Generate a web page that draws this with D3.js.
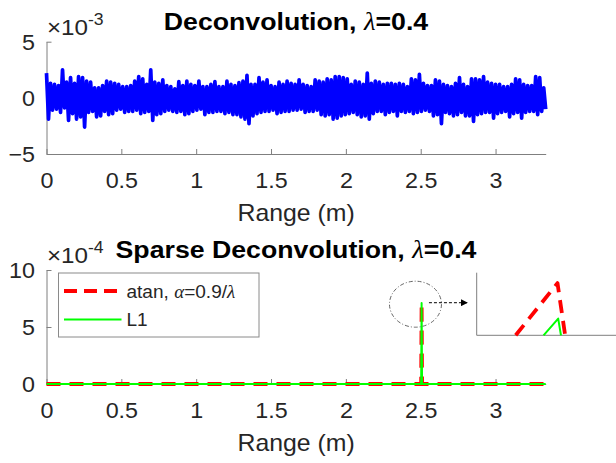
<!DOCTYPE html>
<html>
<head>
<meta charset="utf-8">
<script src="https://cdn.jsdelivr.net/npm/d3@7"></script>
<style>
  html, body { margin: 0; padding: 0; background: #fff; }
  svg { display: block; }
  text { font-family: "Liberation Sans", Arial, sans-serif; }
</style>
</head>
<body>
<svg id="chart" width="616" height="463"></svg>
<script>
// ---------------- DATA ----------------
// Top panel: deconvolution output (units of 1e-3), evenly sampled over the range
const rangeMax = 3.335;
const deconvValues = [
  2.2,-1.9,1.3,-1.1,1.2,-1.0,1.1,-1.3,2.5,-0.9,1.4,-2.0,1.8,-1.4,1.3,-1.9,1.9,-1.7,1.8,-2.6,
  1.5,-1.3,1.4,-1.2,0.9,-1.7,0.9,-1.6,1.1,-1.2,1.5,-1.5,1.4,-1.4,1.3,-1.1,1.2,-1.0,1.0,-1.3,
  1.0,-1.2,1.1,-1.2,1.5,-1.1,1.9,-1.4,1.7,-1.3,1.2,-1.2,2.5,-2.0,1.4,-1.5,1.3,-1.4,1.6,-1.2,
  1.1,-1.1,1.0,-1.2,
  0.8,-1.3,1.45,-1.2,1.1,-1.5,1.5,-1.4,1.2,-1.2,1.1,-1.1,1.5,-1.0,1.0,-1.5,1.0,-1.3,1.2,-1.3,
  1.45,-1.2,1.0,-1.2,1.0,-1.4,1.5,-1.3,1.2,-1.5,1.1,-1.5,1.35,-1.7,1.5,-1.9,2.0,-2.3,1.2,-1.6,
  1.2,-1.4,1.8,-1.3,1.4,-1.2,1.6,-1.2,1.1,-1.1,1.0,-1.4,1.4,-1.3,1.2,-1.2,1.5,-1.2,1.3,-1.1,
  1.2,-1.1,1.6,
  -1.0,1.2,-1.3,1.1,-1.2,1.0,-1.2,1.6,-1.1,1.5,-1.5,1.4,-1.6,1.7,-1.5,1.6,-1.9,1.9,-1.8,1.9,
  -1.6,1.8,-1.5,1.7,-1.4,1.2,-1.3,1.5,-1.5,1.4,-1.7,1.2,-1.6,2.2,-1.9,1.3,-1.4,1.5,-1.2,1.4,
  -1.2,1.2,-1.5,1.3,-1.3,1.3,-1.2,1.2,-1.6,1.3,-1.2,1.2,-1.3,1.0,-1.2,1.7,-1.4,1.6,-1.3,2.1,
  -1.2,1.3,-1.1,
  1.1,-1.2,1.1,-1.6,1.6,-1.5,1.5,-2.3,1.2,-1.3,1.1,-1.4,1.0,-1.6,1.3,-1.5,1.8,-1.3,1.2,-1.6,
  1.0,-1.6,1.7,-2.1,1.7,-1.5,1.6,-1.4,1.9,-1.3,1.4,-1.3,1.3,-1.8,1.2,-1.4,1.2,-1.3,1.0,-1.2,
  1.0,-1.7,1.2,-1.4,1.7,-1.3,1.6,-1.8,1.2,-1.3,1.1,-1.2,1.1,-1.2,1.9,-1.5,1.8,-1.2,0.9,-1.0
];
// Bottom panel: sparse deconvolution (units of 1e-4)
const sparseRange = [0, 2.503, 2.506, 2.509, 3.335];
const atanValues  = [0, 0, 7.1, 0, 0];
const l1Values    = [0, 0, 7.1, 0, 0];
// Inset (zoom of the spike)
const insetAtanRange = [2.5006, 2.5066, 2.5077];
const insetAtanValues = [0, 7.5, 0];
const insetL1Range = [2.5046, 2.5067, 2.5071];
const insetL1Values = [0, 2.4, 0];
// Annotation (ellipse centre and arrow, data units of bottom panel)
const zoomCircle = [2.465, 7.0];
const zoomArrow = [[2.555, 7.13], [2.815, 7.13]];
// Ticks
const xTicks = [0, 0.5, 1, 1.5, 2, 2.5, 3];
const yTicksTop = [-5, 0, 5];
const yTicksBottom = [0, 5, 10];

// ---------------- LAYOUT ----------------
const svg = d3.select("#chart");
const axisColor = "#7f7f7f";
const textColor = "#262626";
const tickFont = 22;
const FONT = '"Liberation Sans", Arial, sans-serif';
const GREEK = '"Liberation Serif", serif';

// horizontal stretch of text about its anchor x
function stretchX(sel, s) {
  sel.each(function () {
    const t = d3.select(this);
    const x0 = +t.attr("x") || 0;
    t.attr("transform", `translate(${x0 * (1 - s)},0) scale(${s},1)`);
  });
}

const x = d3.scaleLinear().domain([0, rangeMax]).range([46.5, 545.7]);
const yTop = d3.scaleLinear().domain([-5, 5]).range([154, 41.7]);
const yBot = d3.scaleLinear().domain([0, 10]).range([384, 270]);

const fmt = d3.format("~g");

function drawAxes(y, yTicks, xAxisY, labelY) {
  const gx = svg.append("g").attr("transform", `translate(0,${xAxisY})`)
    .call(d3.axisBottom(x).tickValues(xTicks).tickFormat(fmt).tickSizeInner(-5).tickSizeOuter(0));
  gx.select(".domain").attr("stroke", axisColor);
  gx.selectAll(".tick line").attr("stroke", axisColor);
  const tx = gx.selectAll(".tick text").attr("y", 34).attr("dy", null)
    .attr("font-size", tickFont).attr("fill", textColor).attr("font-family", FONT);
  stretchX(tx, 1.06);

  const gy = svg.append("g").attr("transform", `translate(${x(0)},0)`)
    .call(d3.axisLeft(y).tickValues(yTicks).tickFormat(fmt).tickSizeInner(-5).tickSizeOuter(0));
  gy.select(".domain").attr("stroke", axisColor);
  gy.selectAll(".tick line").attr("stroke", axisColor);
  const ty = gy.selectAll(".tick text").attr("x", -11.5).attr("dy", "0.36em")
    .attr("font-size", tickFont).attr("fill", textColor).attr("font-family", FONT);
  stretchX(ty, 1.06);

  const lab = svg.append("text").attr("x", (x.range()[0] + x.range()[1]) / 2).attr("y", labelY)
    .attr("text-anchor", "middle").attr("font-size", 23).attr("fill", textColor)
    .text("Range (m)");
  stretchX(lab, 1.08);
}

function drawTitle(parts, yBase) {
  const t = svg.append("text").attr("x", 296).attr("y", yBase)
    .attr("text-anchor", "middle").attr("font-size", 24.5).attr("font-weight", "bold").attr("fill", "#000");
  parts.forEach(p => {
    const s = t.append("tspan").text(p.text);
    if (p.greek) s.attr("font-family", GREEK).attr("font-style", "italic").attr("font-weight", "normal");
  });
  stretchX(t, 1.09);
}

function drawExponent(exp, yBase) {
  const t = svg.append("text").attr("x", 47).attr("y", yBase).attr("font-size", tickFont).attr("fill", textColor);
  t.append("tspan").text("\u00D710");
  t.append("tspan").attr("dy", -10).attr("font-size", 16).text(exp);
  stretchX(t, 1.1);
}

// ---------------- TOP PANEL ----------------
drawAxes(yTop, yTicksTop, 154, 221);
const step = rangeMax / (deconvValues.length - 1);
const lineTop = d3.line().x((d, i) => x(i * step)).y(d => yTop(d));
svg.append("path").datum(deconvValues).attr("d", lineTop)
  .attr("fill", "none").attr("stroke", "#0000ff").attr("stroke-width", 3.7).attr("stroke-linejoin", "round");
drawTitle([{text: "Deconvolution, "}, {text: "\u03BB", greek: true}, {text: "=0.4"}], 30.5);
drawExponent("-3", 35);

// ---------------- BOTTOM PANEL ----------------
drawAxes(yBot, yTicksBottom, 384, 451.5);
const lineBot = d3.line().x(d => x(d[0])).y(d => yBot(d[1]));
svg.append("path").datum(d3.zip(sparseRange, atanValues)).attr("d", lineBot)
  .attr("fill", "none").attr("stroke", "#ff0000").attr("stroke-width", 3.8)
  .attr("stroke-dasharray", "14,9").attr("stroke-linejoin", "round");
svg.append("path").datum(d3.zip(sparseRange, l1Values)).attr("d", lineBot)
  .attr("fill", "none").attr("stroke", "#00ff00").attr("stroke-width", 2).attr("stroke-linejoin", "round");
drawTitle([{text: "Sparse Deconvolution, "}, {text: "\u03BB", greek: true}, {text: "=0.4"}], 258.5);
drawExponent("-4", 263);

// Legend
const lg = svg.append("g");
lg.append("rect").attr("x", 58.5).attr("y", 273).attr("width", 200.5).attr("height", 64)
  .attr("fill", "#fff").attr("stroke", "#8a8a8a").attr("stroke-width", 1);
lg.append("line").attr("x1", 64).attr("x2", 121.5).attr("y1", 291).attr("y2", 291)
  .attr("stroke", "#ff0000").attr("stroke-width", 3.8).attr("stroke-dasharray", "13,7");
lg.append("line").attr("x1", 64).attr("x2", 121.5).attr("y1", 319.5).attr("y2", 319.5)
  .attr("stroke", "#00ff00").attr("stroke-width", 2);
const lt1 = lg.append("text").attr("x", 126.5).attr("y", 298).attr("font-size", 18.5).attr("fill", textColor);
lt1.append("tspan").text("atan, ");
lt1.append("tspan").attr("font-family", GREEK).attr("font-style", "italic").text("\u03B1");
lt1.append("tspan").text("=0.9/");
lt1.append("tspan").attr("font-family", GREEK).attr("font-style", "italic").text("\u03BB");
stretchX(lt1, 1.03);
const lt2 = lg.append("text").attr("x", 126.5).attr("y", 326.5).attr("font-size", 18.5).attr("fill", textColor).text("L1");
stretchX(lt2, 1.03);

// Zoom annotation: ellipse + arrow
svg.append("ellipse").attr("cx", x(zoomCircle[0])).attr("cy", yBot(zoomCircle[1]))
  .attr("rx", 26).attr("ry", 23).attr("fill", "none").attr("stroke", "#555")
  .attr("stroke-width", 0.9).attr("stroke-dasharray", "4,2,1,2");
svg.append("defs").append("marker").attr("id", "ah").attr("viewBox", "0 0 10 10")
  .attr("refX", 10).attr("refY", 5).attr("markerWidth", 7).attr("markerHeight", 7)
  .attr("markerUnits", "userSpaceOnUse").attr("orient", "auto")
  .append("path").attr("d", "M0,0 L10,5 L0,10 Z").attr("fill", "#000");
svg.append("line")
  .attr("x1", x(zoomArrow[0][0])).attr("y1", yBot(zoomArrow[0][1]))
  .attr("x2", x(zoomArrow[1][0])).attr("y2", yBot(zoomArrow[1][1]))
  .attr("stroke", "#000").attr("stroke-width", 1).attr("stroke-dasharray", "3,2")
  .attr("marker-end", "url(#ah)");

// Inset axes
const xIn = d3.scaleLinear().domain([2.495, 2.515]).range([476.7, 616]);
const yIn = d3.scaleLinear().domain([0, 9]).range([335.3, 272.7]);
svg.append("path").attr("d", `M${xIn(2.495)},${yIn(9)} V${yIn(0)} H${xIn(2.515)}`)
  .attr("fill", "none").attr("stroke", axisColor).attr("stroke-width", 1);
const lineIn = d3.line().x(d => xIn(d[0])).y(d => yIn(d[1]));
svg.append("path").datum(d3.zip(insetAtanRange, insetAtanValues)).attr("d", lineIn)
  .attr("fill", "none").attr("stroke", "#ff0000").attr("stroke-width", 3.8)
  .attr("stroke-dasharray", "13,8").attr("stroke-linejoin", "round");
svg.append("path").datum(d3.zip(insetL1Range, insetL1Values)).attr("d", lineIn)
  .attr("fill", "none").attr("stroke", "#00ff00").attr("stroke-width", 2).attr("stroke-linejoin", "round");
</script>
</body>
</html>
